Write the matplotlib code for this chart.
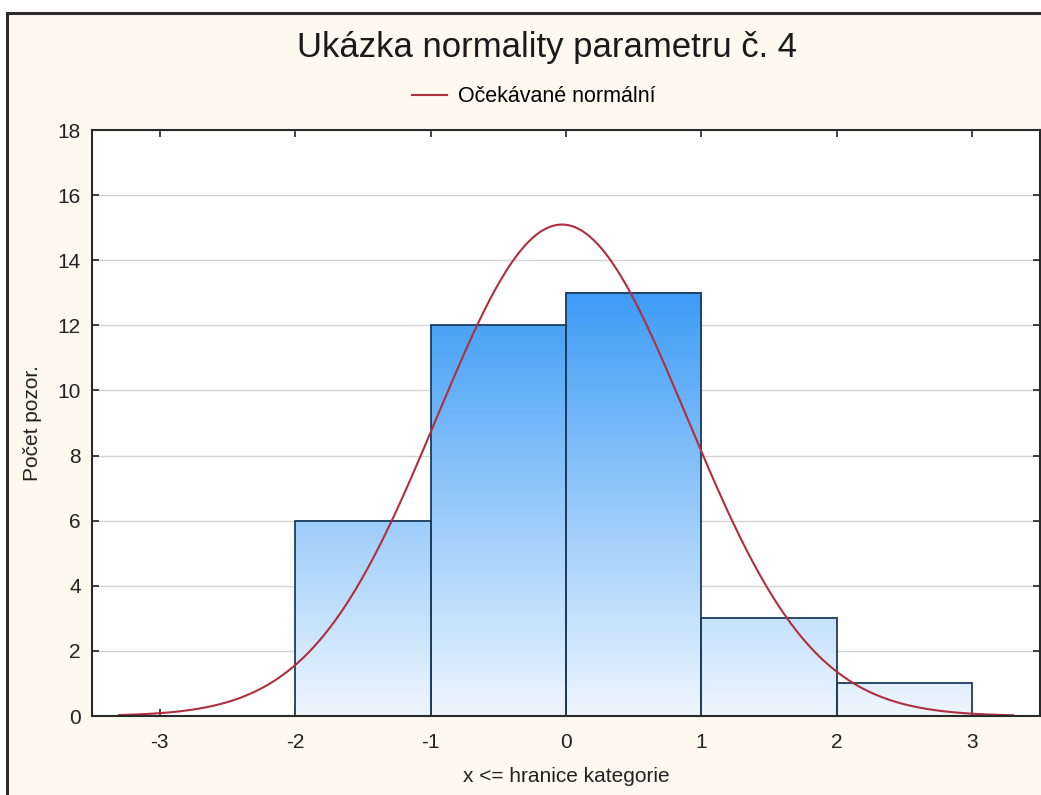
import numpy as np
import matplotlib
matplotlib.use("Agg")
import matplotlib.pyplot as plt
from matplotlib.colors import LinearSegmentedColormap
from matplotlib.patches import Rectangle

plt.rcParams['font.family'] = ['Liberation Sans', 'DejaVu Sans']

# data
bin_left = [-2, -1, 0, 1, 2]
bin_right = [-1, 0, 1, 2, 3]
counts = [6, 12, 13, 3, 1]
# expected normal curve parameters
n_obs = 35
curve_mean = -0.03
curve_sd = 0.925
curve_from, curve_to = -3.3, 3.3
x_ticks = [-3, -2, -1, 0, 1, 2, 3]
y_ticks = [0, 2, 4, 6, 8, 10, 12, 14, 16, 18]

CREAM = "#fdf9ef"
FRAME = "#2b2b2b"
EDGE = "#1e3c5c"
CURVE = "#b02f3e"
GRID = "#d4d4d4"

fig = plt.figure(figsize=(10.41, 7.95), dpi=100, facecolor="white")
# outer frame, cut off at right and bottom like the screenshot
fig.patches.append(Rectangle((7 / 1041, -0.05), 1.2, 1 - 13 / 795 + 0.05,
                             transform=fig.transFigure, facecolor=CREAM,
                             edgecolor=FRAME, linewidth=2.2, zorder=0))

ax = fig.add_axes([92 / 1041, 1 - 716 / 795, 948 / 1041, (716 - 130) / 795])
ax.set_zorder(2)
ax.set_facecolor("white")

# gradient fill of the bars (darker blue towards the top)
cmap = LinearSegmentedColormap.from_list("bl", ["#eef6fe", "#3d9cf6"])
top = max(counts)
for l, r, c in zip(bin_left, bin_right, counts):
    grad = np.linspace(0, c / top, 200).reshape(-1, 1)
    ax.imshow(grad, extent=(l, r, 0, c), origin="lower", cmap=cmap,
              vmin=0, vmax=1, aspect="auto", zorder=2, interpolation="bilinear")

widths = [r - l for l, r in zip(bin_left, bin_right)]
ax.bar(bin_left, counts, width=widths, align="edge", fill=False,
       edgecolor=EDGE, linewidth=1.3, zorder=3)

xs = np.linspace(curve_from, curve_to, 400)
ys = n_obs * 1.0 / (curve_sd * np.sqrt(2 * np.pi)) * np.exp(-0.5 * ((xs - curve_mean) / curve_sd) ** 2)
ax.plot(xs, ys, color=CURVE, linewidth=1.5, zorder=4, label="Očekávané normální")

ax.set_xlim(-3.5, 3.5)
ax.set_ylim(0, 18)
ax.set_xticks(x_ticks)
ax.set_xticklabels([str(t) for t in x_ticks])
ax.set_yticks(y_ticks)
ax.yaxis.grid(True, color=GRID, linewidth=1.0, zorder=0)
ax.set_axisbelow(True)
ax.tick_params(direction="in", length=5, width=1.2, top=True, right=True,
               labelsize=15, colors="#222222")
ax.tick_params(axis="x", pad=12)
ax.tick_params(axis="y", pad=8)
for s in ax.spines.values():
    s.set_linewidth(1.5)
    s.set_color("#2a2a2a")
    s.set_zorder(5)

ax.set_xlabel("x <= hranice kategorie", fontsize=15, color="#222222", labelpad=11)
ax.set_ylabel("Počet pozor.", fontsize=15, color="#222222", labelpad=11)

fig.text(547 / 1041, 1 - 48 / 795, "Ukázka normality parametru č. 4",
         ha="center", va="center", fontsize=25, color="#1a1a1a")
fig.legend(loc="center", bbox_to_anchor=(534 / 1041, 1 - 97 / 795), frameon=False,
           fontsize=15.5, handlelength=1.6, handletextpad=0.55)

fig.savefig("out.png", dpi=100, facecolor=fig.get_facecolor())
